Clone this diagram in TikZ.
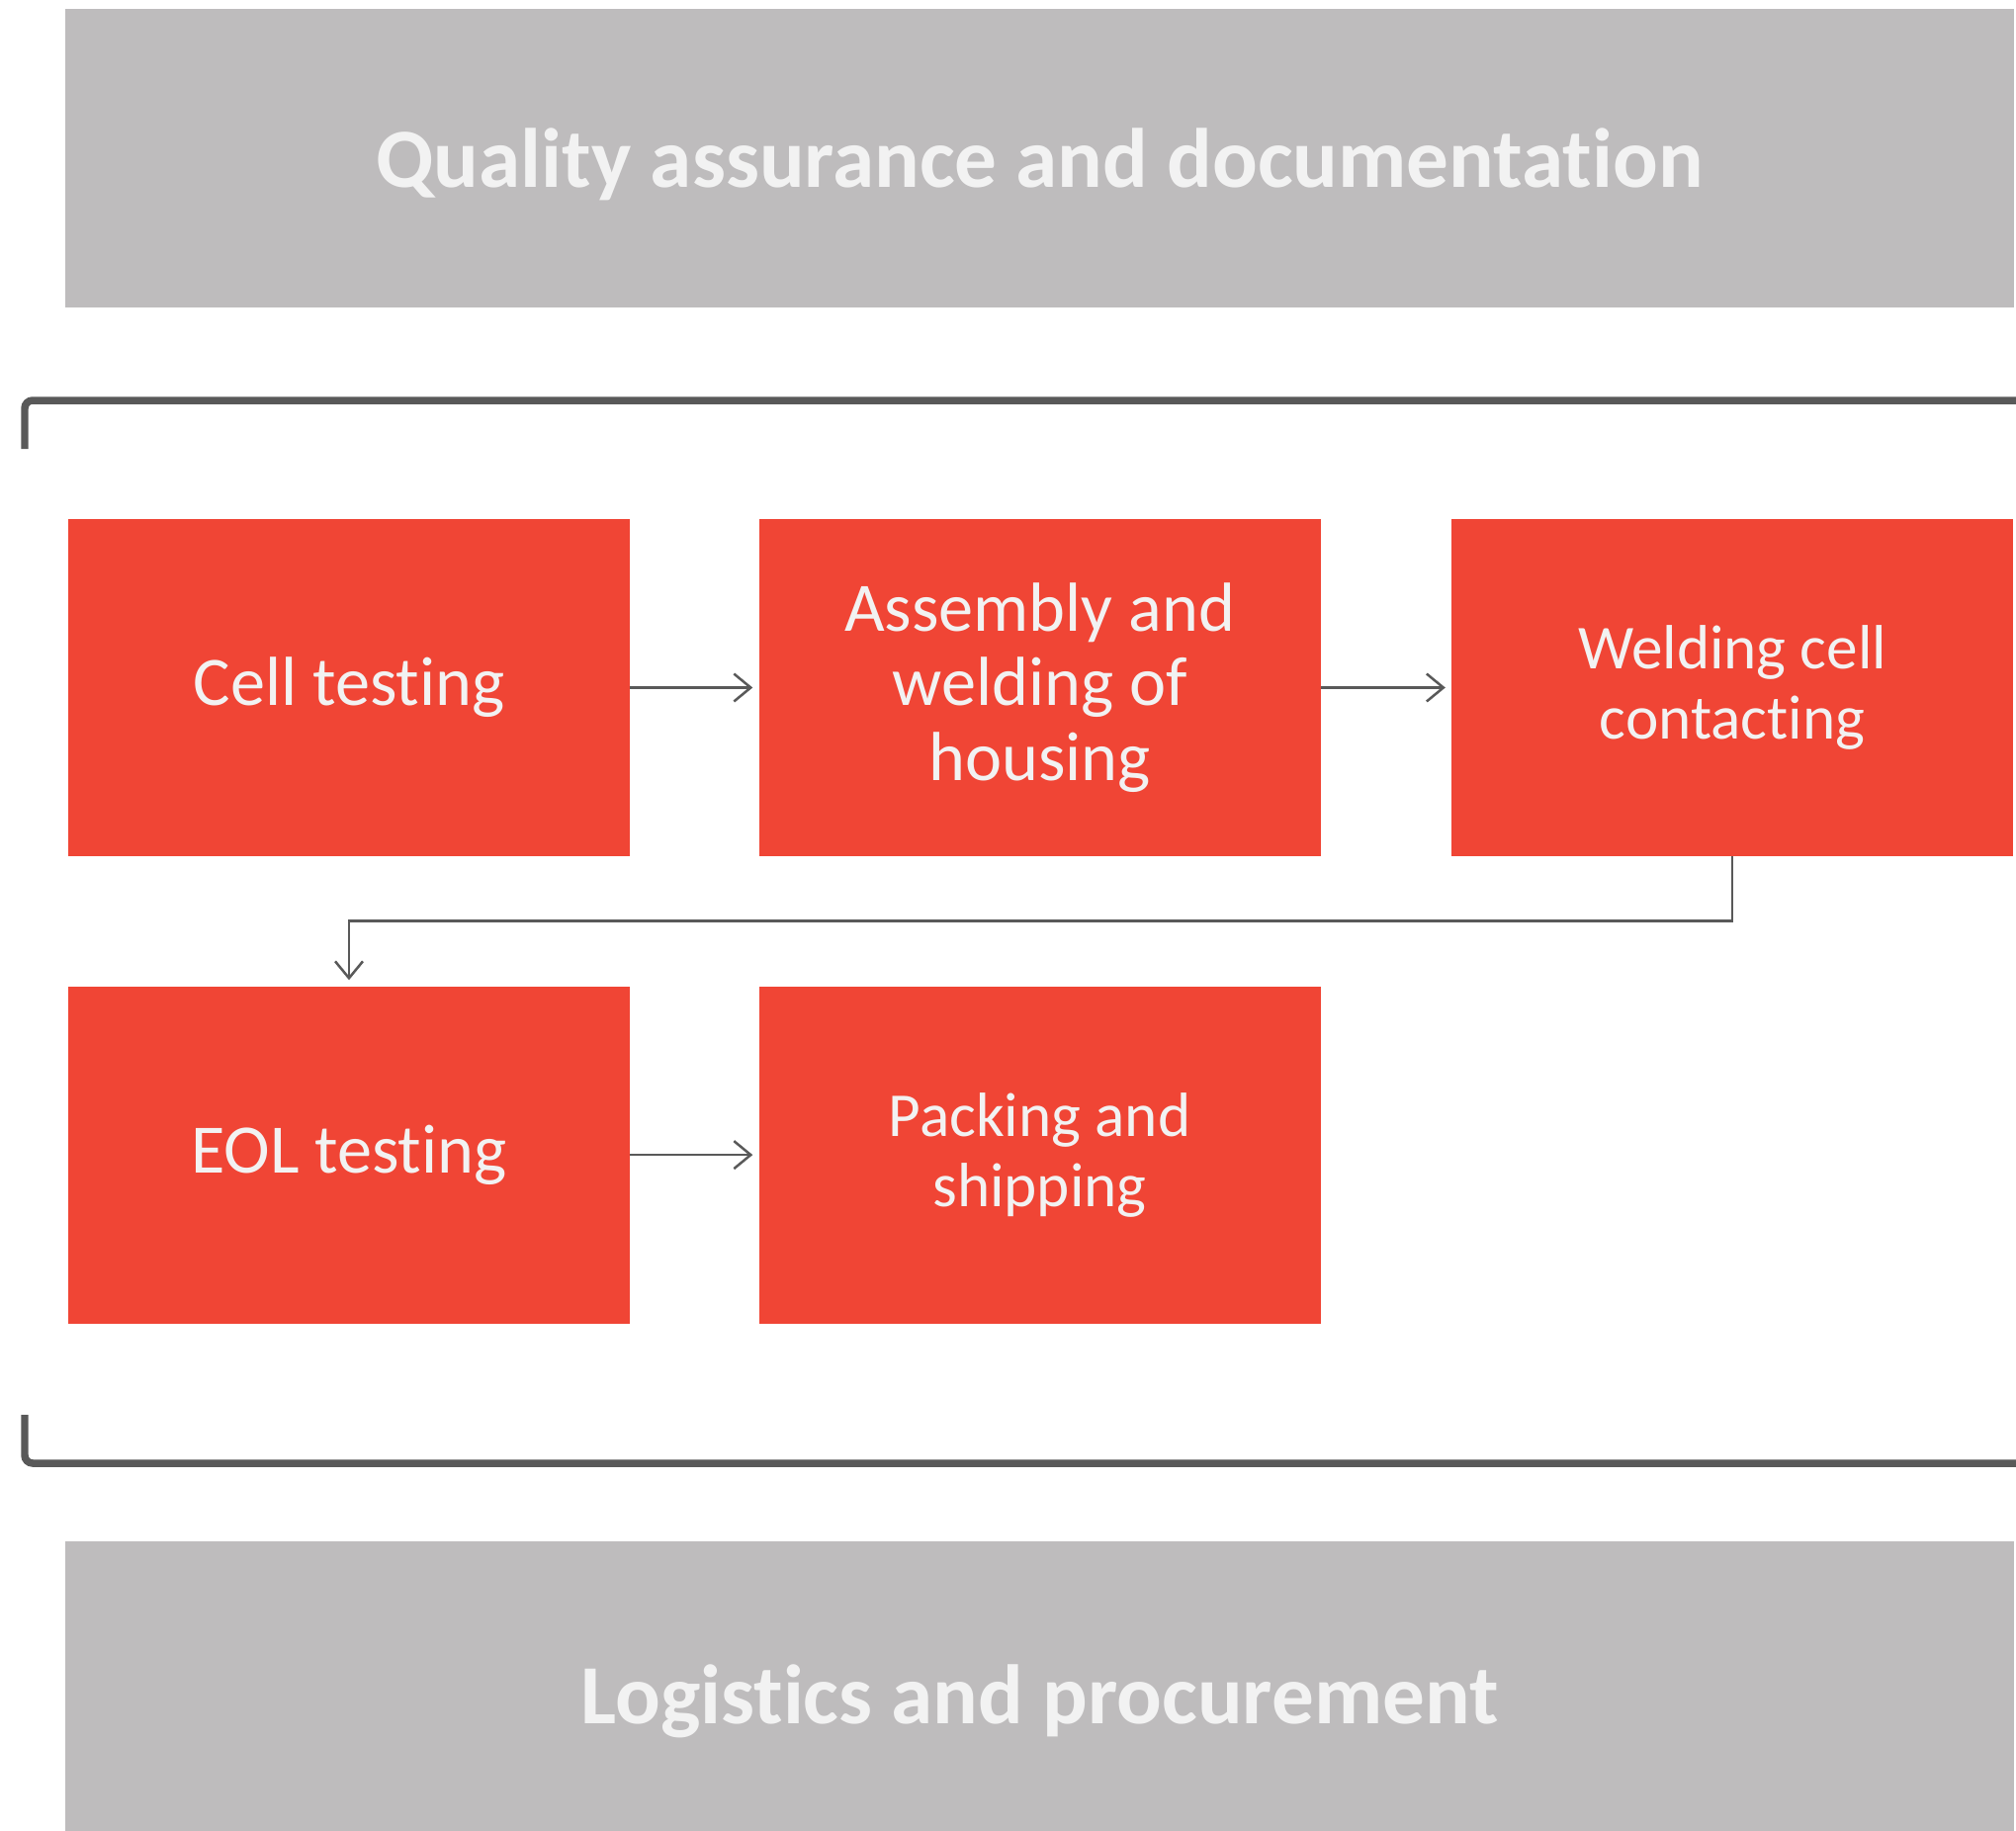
\documentclass[tikz,border=0pt]{standalone}
\usepackage{fontspec}
\setmainfont{Carlito}[Ligatures=NoCommon]
\usetikzlibrary{positioning}
\usetikzlibrary{arrows.meta}
\definecolor{stepred}{HTML}{F04535}
\definecolor{bandgrey}{HTML}{BEBCBD}
\definecolor{linegrey}{HTML}{595959}
\definecolor{labelwhite}{HTML}{F2F2F2}
\tikzset{process/.style={fill=stepred,text=labelwhite,minimum width=11.36cm,minimum height=6.82cm,inner sep=0pt,align=center,font=\fontsize{40}{43}\selectfont}}
\tikzset{small process/.style={process,font=\fontsize{36}{40.5}\selectfont}}
\tikzset{band/.style={fill=bandgrey,text=labelwhite,minimum width=39.42cm,inner sep=0pt,text depth=0pt,font=\fontsize{48.5}{52}\selectfont\bfseries}}
\tikzset{flow/.style={draw=linegrey,line width=0.05cm,->,shorten >=0.12cm}}
\tikzset{bracket/.style={draw=linegrey,line width=0.15cm,rounded corners=0.16cm}}
\tikzset{>={Straight Barb[length=0.34cm,width=0.56cm]}}

\begin{document}
\begin{tikzpicture}[x=0.02cm,y=-0.02cm]
        \useasboundingbox (0,0) rectangle (2039,1852);
        \clip (0,0) rectangle (2039,1852);

        % support bands
        \node[band,minimum height=6.04cm] (quality) at (1051.5,160) {Quality assurance and documentation};
        \node[band,minimum height=6.2cm] (logistics) at (1051.5,1714) {Logistics and procurement};

        % bracket round the process steps
        \draw[bracket] (25,454) -- (25,405) -- (2070,405);
        \draw[bracket] (25,1431) -- (25,1480) -- (2070,1480);

        \node[process] (cell) at (353,695.5) {Cell testing};
        \node[process,right=2.6cm of cell] (housing) {Assembly and\\welding of\\housing};
            \path[flow] (cell) -- (housing);
        \node[small process,right=2.64cm of housing] (welding) {Welding cell\\contacting};
            \path[flow] (housing) -- (welding);

        \node[process,below=2.62cm of cell] (eol) {EOL testing};
            \path[flow] (welding.south) -- ++(0,65) -| (eol.north);
        \node[small process,right=2.6cm of eol] (packing) {Packing and\\shipping};
            \path[flow] (eol) -- (packing);

    \end{tikzpicture}
\end{document}
